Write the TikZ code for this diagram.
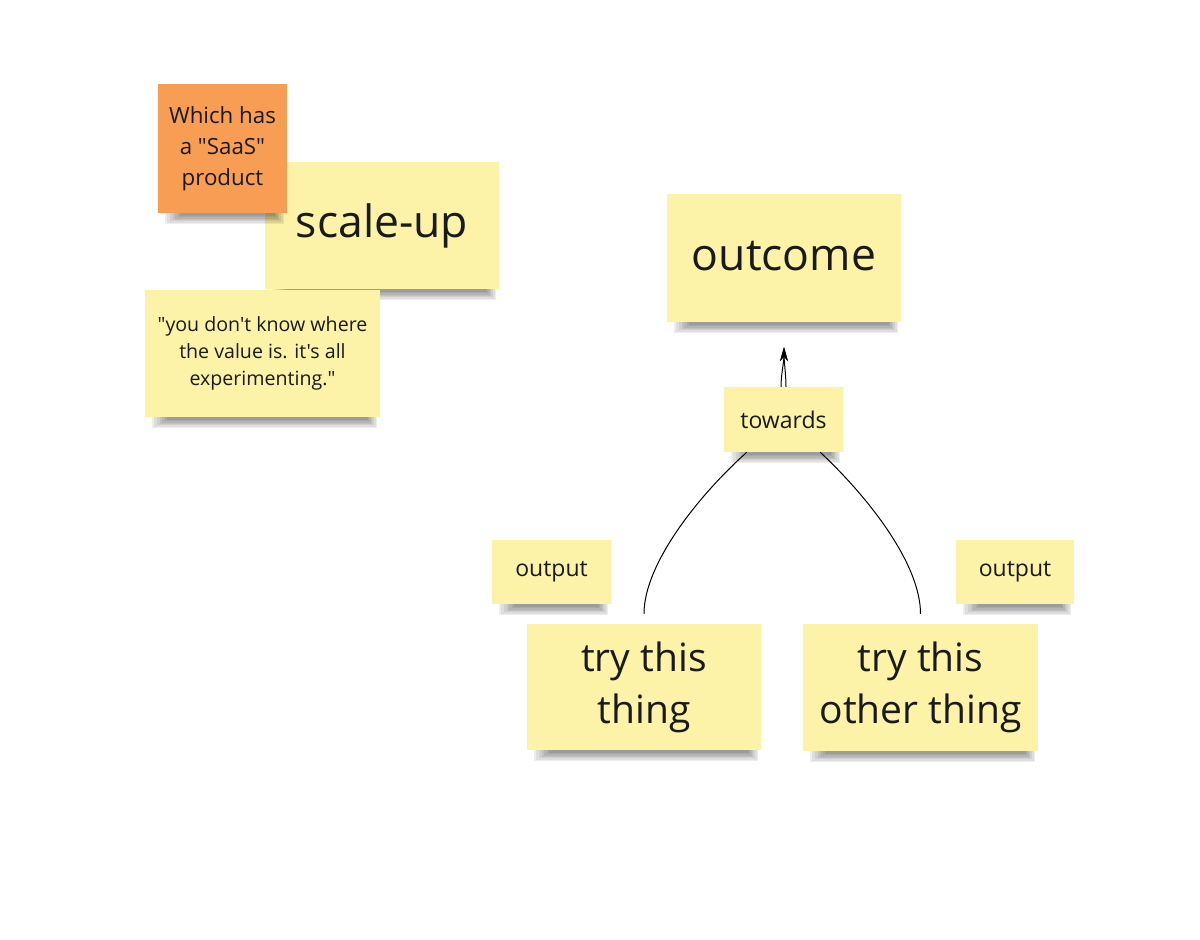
\documentclass[tikz,border=0pt]{standalone}
\usepackage{fontspec}
\setmainfont{Open Sans}[Ligatures=TeXOff]
\usetikzlibrary{arrows.meta,calc}
\definecolor{stickyY}{RGB}{252,243,168}
\definecolor{stickyO}{RGB}{248,157,84}
\definecolor{ink}{RGB}{26,26,26}
\tikzset{
  note/.style={rectangle, fill=stickyY, draw=none, inner sep=0pt, align=center, text=ink},
  orangenote/.style={note, fill=stickyO},
  big/.style={font=\fontsize{44.5}{56}\selectfont},
  try/.style={font=\fontsize{39}{52}\selectfont},
  mid/.style={font=\fontsize{22.3}{31}\selectfont},
  small/.style={font=\fontsize{19.6}{27}\selectfont},
  lbl/.style={font=\fontsize{23}{28}\selectfont},
  conn/.style={draw=black, line width=1pt},
  shadowpiece/.style={fill=black, fill opacity=0.065, draw=none},
}
\newcommand{\noteshadow}[1]{%
  \foreach \i in {0,...,6}{%
    \fill[shadowpiece] ([xshift={7pt+2.6pt*\i}]#1.south west) rectangle ([xshift={-3pt-1.6pt*\i}, yshift={-11pt+1.4pt*\i}]#1.south east);
  }%
}
\begin{document}
\begin{tikzpicture}[x=1pt,y=-1pt]
\useasboundingbox[fill=white] (0,0) rectangle (1200,940);
% left cluster
\node[note, big, minimum width=234pt, minimum height=127pt] (scaleup) at (382,225.5) {\raisebox{2pt}{scale-up}};
\noteshadow{scaleup}
\node[orangenote, mid, minimum width=129pt, minimum height=129pt] (saas) at (222.5,148.5) {Which has\\a "SaaS"\\product};
\noteshadow{saas}
\node[note, small, minimum width=235pt, minimum height=127pt] (quote) at (262.5,353.5) {"you don't know where\\the value is. it's all\\experimenting."};
\noteshadow{quote}
% right cluster
\node[note, big, minimum width=234pt, minimum height=128pt] (outcome) at (784,258) {\raisebox{5pt}{outcome}};
\noteshadow{outcome}
\node[note, lbl, minimum width=119pt, minimum height=65pt] (towards) at (783.5,419.5) {towards};
\noteshadow{towards}
\node[note, lbl, minimum width=119pt, minimum height=64pt] (outL) at (551.5,572) {output};
\noteshadow{outL}
\node[note, lbl, minimum width=118pt, minimum height=64pt] (outR) at (1015,572) {output};
\noteshadow{outR}
\node[note, try, minimum width=234pt, minimum height=126pt] (try1) at (644,687) {\raisebox{2pt}{\parbox{200pt}{\centering try this\\thing}}};
\noteshadow{try1}
\node[note, try, minimum width=235pt, minimum height=127pt] (try2) at (920.5,687.5) {\raisebox{2pt}{\parbox{230pt}{\centering try this\\other thing}}};
\noteshadow{try2}
% connectors
\coordinate (t1) at ([yshift=10pt]try1.north);
\coordinate (t2) at ([yshift=10pt]try2.north);
\coordinate (tip) at ([yshift=-25pt]outcome.south);
\draw[conn] ([xshift=23pt]towards.south west) .. controls +(-48,43) and +(0,-50) .. (t1);
\draw[conn] ([xshift=-23pt]towards.south east) .. controls +(48,45) and +(0,-50) .. (t2);
\draw[conn, -{Stealth[length=14pt,width=8pt]}] ([xshift=-2.5pt]towards.north) .. controls +(0,-12) and +(0,14) .. (tip);
\draw[conn, -{Stealth[length=14pt,width=8pt]}] ([xshift=2.5pt]towards.north) .. controls +(0,-12) and +(0,14) .. (tip);
\end{tikzpicture}
\end{document}
